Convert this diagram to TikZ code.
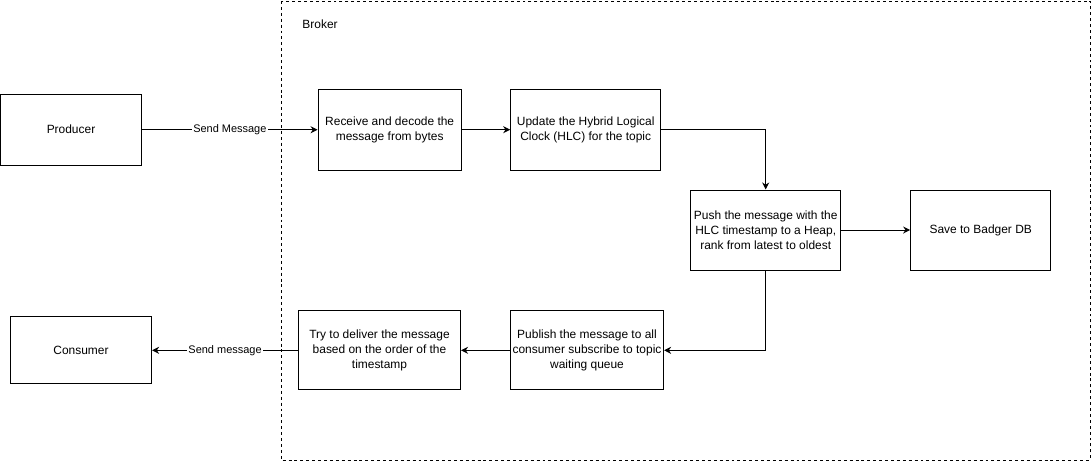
\documentclass[tikz,border=0pt]{standalone}
\usepackage{fontspec}
\setmainfont{Liberation Sans}
\usetikzlibrary{arrows.meta}

\begin{document}
\begin{tikzpicture}[x=0.025cm, y=-0.025cm, line width=0.7pt,
  procbox/.style={draw, rectangle, inner sep=0pt, align=center,
    font=\fontsize{8.5pt}{10.6pt}\selectfont},
  flow/.style={-{Stealth[length=5pt, width=5pt]}},
  edgelabel/.style={fill=white, inner sep=1pt, font=\fontsize{7.8pt}{9pt}\selectfont}]
\useasboundingbox (0, 0) rectangle (1091, 461);
\draw [dash pattern=on 2.1pt off 2.1pt] (281, 1) rectangle (1090, 460);
\node [anchor=west, inner sep=0pt, font=\fontsize{8.5pt}{10.6pt}\selectfont] (broker) at (302, 24) {Broker};

\node [procbox, minimum width=3.53cm, minimum height=1.78cm] (producer) at (71, 129.7) {Producer};
\node [procbox, minimum width=3.58cm, minimum height=2.02cm] (receive) at (389.7, 129.7) {Receive and decode the\\message from bytes};
\node [procbox, minimum width=3.75cm, minimum height=2.02cm] (update) at (585.7, 129.7) {Update the Hybrid Logical\\Clock (HLC) for the topic};
\node [procbox, minimum width=3.75cm, minimum height=2cm] (push) at (765.7, 230) {Push the message with the\\HLC timestamp to a Heap,\\rank from latest to oldest};
\node [procbox, minimum width=3.5cm, minimum height=2cm] (save) at (980.7, 230) {Save to Badger DB};
\node [procbox, minimum width=3.83cm, minimum height=1.98cm] (publish) at (587, 350.3) {Publish the message to all\\consumer subscribe to topic\\waiting queue};
\node [procbox, minimum width=4.05cm, minimum height=1.98cm] (try) at (379.5, 350.3) {Try to deliver the message\\based on the order of the\\timestamp};
\node [procbox, minimum width=3.53cm, minimum height=1.68cm] (consumer) at (81, 350.3) {Consumer};

\draw [flow] (producer) -- node [edgelabel] {Send Message} (receive);
\draw [flow] (receive) -- (update);
\draw [flow] (update.east) -| (push.north);
\draw [flow] (push) -- (save);
\draw [flow] (push.south) |- (publish.east);
\draw [flow] (publish) -- (try);
\draw [flow] (try) -- node [edgelabel] {Send message} (consumer);
\end{tikzpicture}
\end{document}
